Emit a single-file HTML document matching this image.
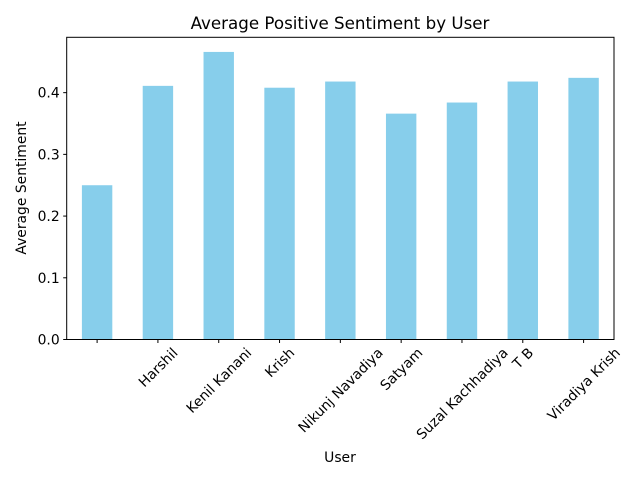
<!DOCTYPE html>
<html><head><meta charset="utf-8"><style>
body{margin:0;background:#fff;}
svg{display:block;font-family:"DejaVu Sans","Liberation Sans",sans-serif;}
</style></head><body>
<svg id="chart" width="640" height="480" viewBox="0 0 640 480" xmlns="http://www.w3.org/2000/svg">
<text x="340" y="29" font-size="16.7" text-anchor="middle" fill="#000">Average Positive Sentiment by User</text>
<g id="bars"></g>
<g id="yticks"></g>
<g id="xticks"></g>
<rect x="66.7" y="37.3" width="547.3" height="302.2" fill="none" stroke="#000" stroke-width="1"/>
<text transform="translate(26,188) rotate(-90)" font-size="13.9" text-anchor="middle" fill="#000">Average Sentiment</text>
<text x="340" y="462" font-size="13.9" text-anchor="middle" fill="#000">User</text>
</svg>
<script>
const categories = ["", "Harshil", "Kenil Kanani", "Krish", "Nikunj Navadiya", "Satyam", "Suzal Kachhadiya", "T B", "Viradiya Krish"];
const sentimentValues = [0.250, 0.411, 0.466, 0.408, 0.418, 0.366, 0.384, 0.418, 0.424];
const yTickValues = [0.0, 0.1, 0.2, 0.3, 0.4];
const yTickLabels = ["0.0", "0.1", "0.2", "0.3", "0.4"];

const NS = "http://www.w3.org/2000/svg";
const plotLeft = 66.7, plotRight = 614, plotTop = 37.3, plotBottom = 339.5;
const yMax = 0.4897;
const yScale = v => plotBottom - v / yMax * (plotBottom - plotTop);
const step = (plotRight - plotLeft) / categories.length;
const xScale = i => plotLeft + step * (i + 0.5);
const bw = step * 0.5;

const bars = document.getElementById("bars");
sentimentValues.forEach((v, i) => {
  const r = document.createElementNS(NS, "rect");
  
  
  r.setAttribute("x", xScale(i) - bw / 2);
  r.setAttribute("y", yScale(v));
  r.setAttribute("width", bw);
  r.setAttribute("height", plotBottom - yScale(v));
  r.setAttribute("fill", "#87ceeb");
  bars.appendChild(r);
});

const yt = document.getElementById("yticks");
yTickValues.forEach((v, i) => {
  const l = document.createElementNS(NS, "line");
  
  
  l.setAttribute("x1", plotLeft - 3.5); l.setAttribute("x2", plotLeft);
  l.setAttribute("y1", yScale(v)); l.setAttribute("y2", yScale(v));
  l.setAttribute("stroke", "#000");
  yt.appendChild(l);
  const t = document.createElementNS(NS, "text");
  
  
  t.setAttribute("x", plotLeft - 7); t.setAttribute("y", yScale(v) + 5);
  t.setAttribute("font-size", "13.9"); t.setAttribute("text-anchor", "end");
  t.textContent = yTickLabels[i];
  yt.appendChild(t);
});

const xt = document.getElementById("xticks");
categories.forEach((c, i) => {
  const l = document.createElementNS(NS, "line");
  
  
  l.setAttribute("x1", xScale(i)); l.setAttribute("x2", xScale(i));
  l.setAttribute("y1", plotBottom); l.setAttribute("y2", plotBottom + 3.5);
  l.setAttribute("stroke", "#000");
  xt.appendChild(l);
  if (!c) return;
  const t = document.createElementNS(NS, "text");
  
  
  t.setAttribute("font-size", "13.9"); t.setAttribute("text-anchor", "middle");
  t.textContent = c;
  xt.appendChild(t);
  let L = c.length * 8;
  try { L = t.getComputedTextLength() || L; } catch (e) {}
  const h = (L + 13) * 0.7071;
  const cy = plotBottom + 6 + h / 2;
  t.setAttribute("transform", "translate(" + xScale(i) + "," + cy + ") rotate(-45) translate(0,5)");
});
</script>
</body></html>
